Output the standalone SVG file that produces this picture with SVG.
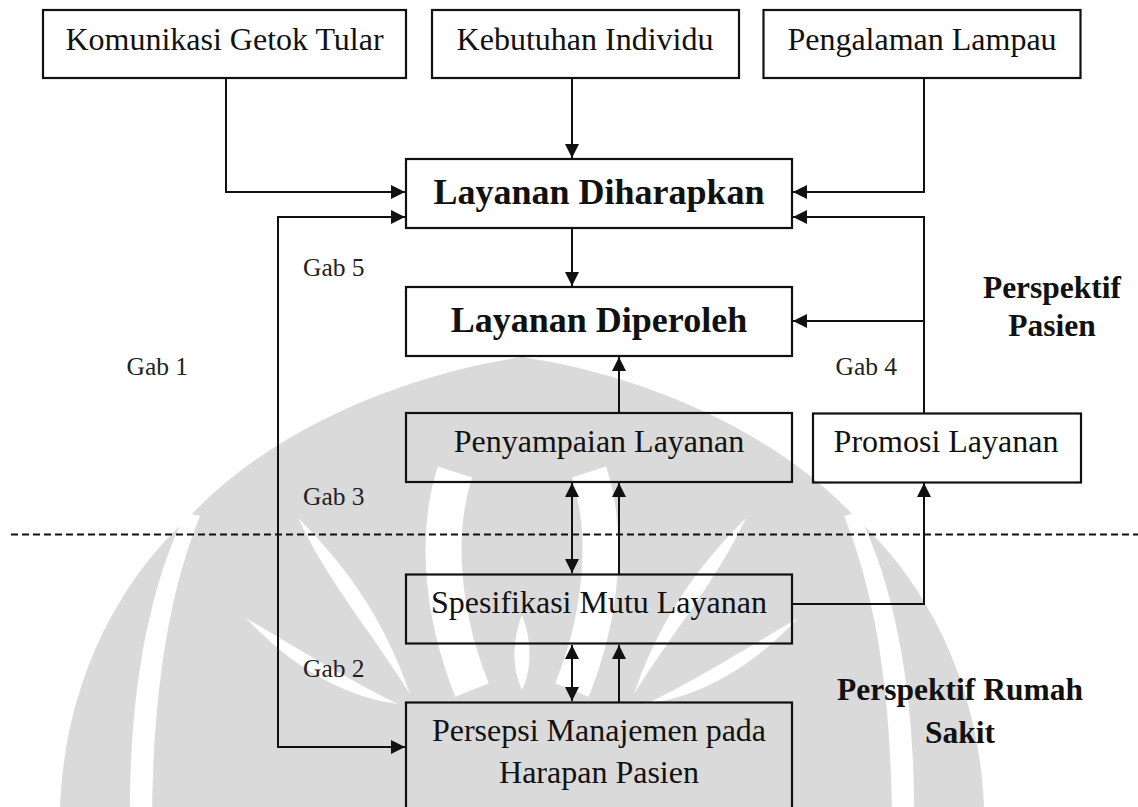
<svg xmlns="http://www.w3.org/2000/svg" width="1138" height="807" viewBox="0 0 1138 807">
  <style>
    .box { fill: none; stroke: #111; stroke-width: 2.2; }
    .lbl { font-family: "Liberation Serif", "Times New Roman", serif; font-size: 32px; fill: #111; text-anchor: middle; }
    .big { font-family: "Liberation Serif", "Times New Roman", serif; font-size: 36px; font-weight: bold; fill: #111; text-anchor: middle; }
    .persp { font-family: "Liberation Serif", "Times New Roman", serif; font-size: 31.5px; font-weight: bold; fill: #111; text-anchor: middle; }
    .gab { font-family: "Liberation Serif", "Times New Roman", serif; font-size: 25.5px; fill: #222; }
    .wire { fill: none; stroke: #111; stroke-width: 2; }
    .arr { marker-end: url(#head); }
    .both { marker-start: url(#head); marker-end: url(#head); }
    .mark { fill: #dadada; }
    .gap { fill: none; stroke: #fff; }
    .cut { fill: #fff; }
  </style>
  <defs>
    <marker id="head" markerUnits="userSpaceOnUse" markerWidth="15" markerHeight="14" refX="14" refY="7" orient="auto-start-reverse">
      <path d="M0,0 L14,7 L0,14 Z" fill="#111"/>
    </marker>
  </defs>

  <rect width="1138" height="807" fill="#fff"/>

  <!-- faint emblem in the background -->
  <g id="emblem">
    <path class="mark" d="M60,807 C65,680 120,580 188,518 C280,420 420,372 522,357 C624,372 764,420 856,518 C924,580 979,680 984,807 Z"/>
    <!-- gaps between the side leaves and the dome -->
    <path class="cut" d="M186,512 C150,585 128,690 130,830 L152,830 C152,690 170,590 200,516 Z"/>
    <path class="cut" d="M858,512 C894,585 916,690 914,830 L892,830 C892,690 874,590 844,516 Z"/>
    <!-- inner flame lines -->
    <path class="cut" d="M298,518 C340,560 382,612 410,694 C370,630 330,585 298,518 Z"/>
    <path class="cut" d="M746,518 C704,560 662,612 634,694 C674,630 714,585 746,518 Z"/>
    <path class="cut" d="M246,618 C300,650 352,682 398,704 C350,698 296,672 246,618 Z"/>
    <path class="cut" d="M798,618 C744,650 692,682 646,704 C694,698 748,672 798,618 Z"/>
    <!-- the oval round the centre -->
    <path class="gap" stroke-width="36" d="M455,472 C436,530 440,610 472,690"/>
    <path class="gap" stroke-width="36" d="M589,472 C608,530 604,610 572,690"/>
    <path class="cut" d="M522,615 C532,640 532,670 522,690 C512,670 512,640 522,615 Z"/>
  </g>

  <!-- separator between the two perspectives -->
  <line x1="11" y1="534.5" x2="1138" y2="534.5" stroke="#111" stroke-width="2" stroke-dasharray="7 4"/>

  <g id="connectors">
    <path class="wire arr" d="M226,78 V192 H405"/>
    <path class="wire arr" d="M572,78 V158"/>
    <path class="wire arr" d="M924,78 V192 H793"/>
    <path class="wire both" d="M405,217 H278 V747 H405"/>
    <path class="wire arr" d="M572,228 V286"/>
    <path class="wire arr" d="M924,413 V217 H793"/>
    <path class="wire arr" d="M924,321 H793"/>
    <path class="wire arr" d="M619,413 V357"/>
    <path class="wire both" d="M572,483 V573"/>
    <path class="wire arr" d="M619,574 V483"/>
    <path class="wire both" d="M572,645 V701"/>
    <path class="wire arr" d="M619,702 V645"/>
    <path class="wire arr" d="M792,604 H924 V483"/>
  </g>

  <g id="komunikasi">
    <rect class="box" x="43" y="10" width="363" height="68"/>
    <text class="lbl" x="224.5" y="50">Komunikasi Getok Tular</text>
  </g>
  <g id="kebutuhan">
    <rect class="box" x="432" y="10" width="307" height="68"/>
    <text class="lbl" x="585" y="50">Kebutuhan Individu</text>
  </g>
  <g id="pengalaman">
    <rect class="box" x="763.5" y="10" width="317" height="68"/>
    <text class="lbl" x="922" y="50">Pengalaman Lampau</text>
  </g>
  <g id="diharapkan">
    <rect class="box" x="406" y="159" width="386" height="69"/>
    <text class="big" x="599" y="204">Layanan Diharapkan</text>
  </g>
  <g id="diperoleh">
    <rect class="box" x="406" y="287" width="386" height="69"/>
    <text class="big" x="599" y="332">Layanan Diperoleh</text>
  </g>
  <g id="penyampaian">
    <rect class="box" x="406" y="413" width="386" height="69"/>
    <text class="lbl" x="599" y="452">Penyampaian Layanan</text>
  </g>
  <g id="promosi">
    <rect class="box" x="813" y="413.5" width="268" height="69"/>
    <text class="lbl" x="946" y="452">Promosi Layanan</text>
  </g>
  <g id="spesifikasi">
    <rect class="box" x="406" y="574.5" width="386" height="69"/>
    <text class="lbl" x="599" y="613">Spesifikasi Mutu Layanan</text>
  </g>
  <g id="persepsi">
    <rect class="box" x="406" y="702.5" width="386" height="130"/>
    <text class="lbl" x="599" y="741">Persepsi Manajemen pada</text>
    <text class="lbl" x="599" y="783">Harapan Pasien</text>
  </g>

  <g id="labels">
    <text class="persp" x="1052" y="298">Perspektif</text>
    <text class="persp" x="1052" y="336">Pasien</text>
    <text class="persp" x="960" y="700">Perspektif Rumah</text>
    <text class="persp" x="960" y="743">Sakit</text>
    <text class="gab" x="303" y="276">Gab 5</text>
    <text class="gab" x="126.5" y="375">Gab 1</text>
    <text class="gab" x="835.5" y="375">Gab 4</text>
    <text class="gab" x="303" y="505">Gab 3</text>
    <text class="gab" x="303" y="677">Gab 2</text>
  </g>
</svg>
